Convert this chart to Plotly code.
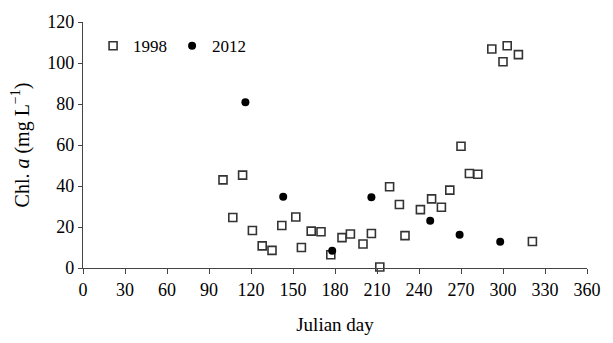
import plotly.graph_objects as go

days_1998 = [100, 107, 114, 121, 128, 135, 142, 152, 156, 163, 170, 177, 185, 191,
             200, 206, 212, 219, 226, 230, 241, 249, 256, 262, 270, 276, 282, 292,
             300, 303, 311, 321]
chl_1998 = [43, 24.6, 45.3, 18.3, 10.8, 8.6, 20.7, 24.9, 10, 18, 17.7, 6.5, 14.8, 16.6,
            11.7, 16.8, 0.5, 39.6, 31, 15.8, 28.5, 33.7, 29.6, 38, 59.4, 46.1, 45.7, 106.8,
            100.6, 108.4, 104.1, 12.9]

days_2012 = [116, 143, 178, 206, 248, 269, 298]
chl_2012 = [80.9, 34.8, 8.4, 34.5, 23, 16.2, 12.8]

x_ticks = list(range(0, 361, 30))
y_ticks = list(range(0, 121, 20))

FONT = "Liberation Serif"

fig = go.Figure()
fig.add_trace(go.Scatter(
    x=days_1998, y=chl_1998, mode="markers", name="1998",
    marker=dict(symbol="square-open", size=8, color="#333333", line=dict(width=1.6)),
    cliponaxis=False,
))
fig.add_trace(go.Scatter(
    x=days_2012, y=chl_2012, mode="markers", name="2012",
    marker=dict(symbol="circle", size=8, color="black"),
    cliponaxis=False,
))

fig.update_layout(
    width=613, height=343,
    margin=dict(l=83, r=15, t=15, b=66),
    plot_bgcolor="white", paper_bgcolor="white",
    font=dict(family=FONT, size=18, color="black"),
    showlegend=True,
    legend=dict(orientation="h", x=0.02, xanchor="left", y=0.975, yanchor="top",
                font=dict(family=FONT, size=17), itemwidth=30,
                bgcolor="rgba(0,0,0,0)", tracegroupgap=0),
    xaxis=dict(
        range=[0, 360], tickmode="array", tickvals=x_ticks,
        ticktext=[str(v) for v in x_ticks],
        showline=True, linecolor="#444", linewidth=1.2,
        ticks="outside", ticklen=5, tickcolor="#444",
        showgrid=False, zeroline=False,
        title=dict(text="Julian day", standoff=18, font=dict(size=19)),
        tickfont=dict(size=18),
    ),
    yaxis=dict(
        range=[0, 120], tickmode="array", tickvals=y_ticks,
        ticktext=[str(v) for v in y_ticks],
        showline=True, linecolor="#444", linewidth=1.2,
        ticks="outside", ticklen=4, tickcolor="#444",
        showgrid=False, zeroline=False,
        title=dict(text="Chl. <i>a</i> (mg L<sup>−1</sup>)", standoff=12, font=dict(size=20)),
        tickfont=dict(size=18),
    ),
)

fig.write_html("out.html")
